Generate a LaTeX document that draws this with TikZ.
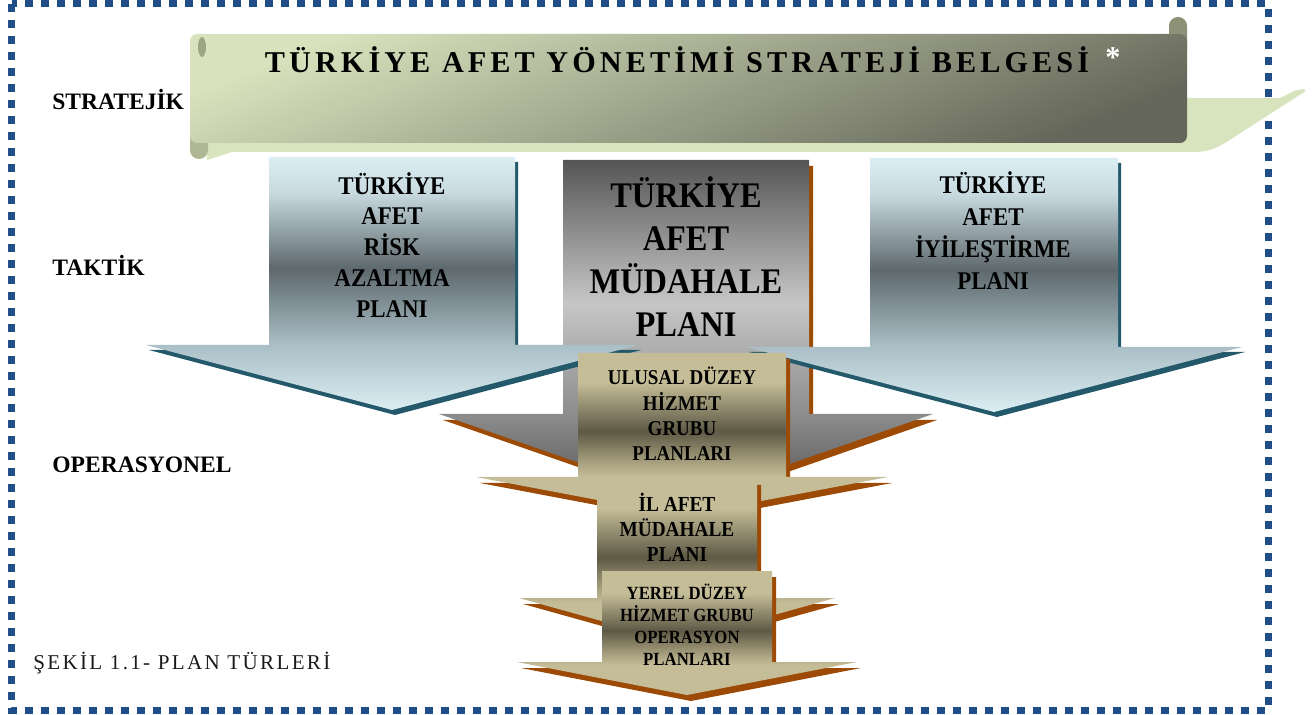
\documentclass[tikz,border=0pt]{standalone}
\usepackage{fontspec}
\setmainfont{Liberation Serif}
\newfontfamily\narrowfont[FakeStretch=0.9]{Liberation Serif}

\definecolor{frameblue}{HTML}{1F4E89}
\definecolor{bandgreen}{HTML}{D7E4BD}
\definecolor{scrolllight}{HTML}{D8E3BD}
\definecolor{scrolldark}{HTML}{65675A}
\definecolor{scrollcurl}{HTML}{B0B794}
\definecolor{bluelight}{HTML}{DAEEF3}
\definecolor{bluemid}{HTML}{A9BEC5}
\definecolor{bluedark}{HTML}{5E696D}
\definecolor{bluetop}{HTML}{C8DAE0}
\definecolor{tealshadow}{HTML}{23596B}
\definecolor{graylight}{HTML}{C6C6C6}
\definecolor{graymid}{HTML}{8E8E8E}
\definecolor{graydark}{HTML}{555555}
\definecolor{tanlight}{HTML}{C5BD98}
\definecolor{tanmid}{HTML}{ABA381}
\definecolor{tandark}{HTML}{5D5945}
\definecolor{brownshadow}{HTML}{9C4A06}
\definecolor{captiongray}{HTML}{1A1A1A}

% Gradients
\pgfdeclareverticalshading{bluearrow}{100bp}{color(0bp)=(bluelight); color(25bp)=(bluelight);
  color(38bp)=(bluemid); color(53bp)=(bluedark); color(68bp)=(bluetop); color(75bp)=(bluelight);
  color(100bp)=(bluelight)}
\pgfdeclareverticalshading{grayarrow}{100bp}{color(0bp)=(graydark); color(25bp)=(graydark);
  color(38bp)=(graymid); color(54bp)=(graylight); color(75bp)=(graydark); color(100bp)=(graydark)}
\pgfdeclareverticalshading{tanarrow}{100bp}{color(0bp)=(tanlight); color(25bp)=(tanlight);
  color(37bp)=(tanlight); color(41bp)=(tanmid); color(51bp)=(tandark); color(66bp)=(tanlight);
  color(75bp)=(tanlight); color(100bp)=(tanlight)}

\tikzset{
  blueshadow/.style = {fill = tealshadow, shift = {(3,5)}},
  brownback/.style  = {fill = brownshadow, shift = {(4,6)}},
  bluebody/.style   = {shade, shading = bluearrow},
  graybody/.style   = {shade, shading = grayarrow},
  tanbody/.style    = {shade, shading = tanarrow}
}

% [options]{center x}{half shaft}{half head}{top}{head y}{tip y}
\newcommand{\planarrow}[7][]{%
  \path[#1] ({#2-#3},#5) -- ({#2+#3},#5) -- ({#2+#3},#6) -- ({#2+#4},#6)
    -- (#2,#7) -- ({#2-#4},#6) -- ({#2-#3},#6) -- cycle;}

\begin{document}
\begin{tikzpicture}[x = 0.02cm, y = -0.02cm]
\useasboundingbox (0,0) rectangle (1314,715);

% Frame
\draw[frameblue, line width = 0.14cm, dash pattern = on 0.16cm off 0.16cm]
  (11.5,4) rectangle (1268,710);

% Scroll
\fill[bandgreen] (207,160) -- (232,152) -- (1198,152)
  .. controls (1212,151) and (1220,146) .. (1228,141) -- (1298,96)
  .. controls (1312,88) and (1304,88) .. (1294,91) -- (1280,98) -- (1185,98)
  -- (207,130) -- cycle;
\fill[scrollcurl, rounded corners = 5pt] (190,110) rectangle (208,159);
\fill[scrollcurl!80!black, rounded corners = 5pt] (1169,17) rectangle (1187,60);
\shade[top color = scrolllight, bottom color = scrolldark, shading angle = 22,
  rounded corners = 4pt] (190,34) rectangle (1187,143);
\fill[scrollcurl!90!black] (202,47) ellipse [x radius = 4, y radius = 10];

% Arrows
\planarrow[brownback]{686}{123}{247}{160}{414}{500}
\planarrow[graybody]{686}{123}{247}{160}{414}{500}
\planarrow[blueshadow]{392}{123}{246}{157}{345}{410}
\planarrow[bluebody]{392}{123}{246}{157}{345}{410}
\planarrow[blueshadow]{994}{124}{248}{158}{347}{412}
\planarrow[bluebody]{994}{124}{248}{158}{347}{412}
\planarrow[brownback]{682}{104}{206}{353}{477}{516}
\planarrow[tanbody]{682}{104}{206}{353}{477}{516}
\planarrow[brownback]{677}{80}{158}{479}{598}{642}
\planarrow[tanbody]{677}{80}{158}{479}{598}{642}
\planarrow[brownback]{687}{85}{170}{571}{662}{695}
\planarrow[tanbody]{687}{85}{170}{571}{662}{695}

% Levels
\begin{scope}[every node/.style = {anchor = base west, inner sep = 0pt,
    font = \bfseries\fontsize{13.4}{16}\selectfont}]
  \node (strat) at (52,110) {STRATEJİK};
  \node (tact)  at (52,276) {TAKTİK};
  \node (oper)  at (52,473) {OPERASYONEL};
\end{scope}

\node[anchor = base west, inner sep = 0pt, text = captiongray,
  font = \fontsize{12}{14}\selectfont\addfontfeature{LetterSpace=11}]
  (caption) at (33,669) {ŞEKİL 1.1- PLAN TÜRLERİ};

% Title
\node[inner sep = 0pt, font = \bfseries\fontsize{17.2}{20}\selectfont\addfontfeature{LetterSpace=13.5}]
  (belge) at (677,60) {TÜRKİYE AFET YÖNETİMİ STRATEJİ BELGESİ};
\node[inner sep = 0pt, text = white, font = \bfseries\fontsize{17.2}{20}\selectfont]
  (star) at (1113,58) {*};

% Plans
\begin{scope}[every node/.style = {align = center, inner sep = 0pt}]
  \node[font = \narrowfont\bfseries\fontsize{14.5}{17.6}\selectfont] (risk) at (392,245)
    {TÜRKİYE\\AFET\\RİSK\\AZALTMA\\PLANI};
  \node[font = \narrowfont\bfseries\fontsize{20.5}{24.5}\selectfont] (response) at (686,257)
    {TÜRKİYE\\AFET\\MÜDAHALE\\PLANI};
  \node[font = \narrowfont\bfseries\fontsize{14.5}{18.2}\selectfont] (recovery) at (993,231)
    {TÜRKİYE\\AFET\\İYİLEŞTİRME\\PLANI};
  \node[font = \narrowfont\bfseries\fontsize{12}{14.4}\selectfont] (national) at (682,414)
    {ULUSAL DÜZEY\\HİZMET\\GRUBU\\PLANLARI};
  \node[font = \narrowfont\bfseries\fontsize{12.2}{14.2}\selectfont] (province) at (677,527)
    {İL AFET\\MÜDAHALE\\PLANI};
  \node[font = \narrowfont\bfseries\fontsize{10.6}{12.5}\selectfont] (local) at (687,625)
    {YEREL DÜZEY\\HİZMET GRUBU\\OPERASYON\\PLANLARI};
\end{scope}
\end{tikzpicture}
\end{document}
